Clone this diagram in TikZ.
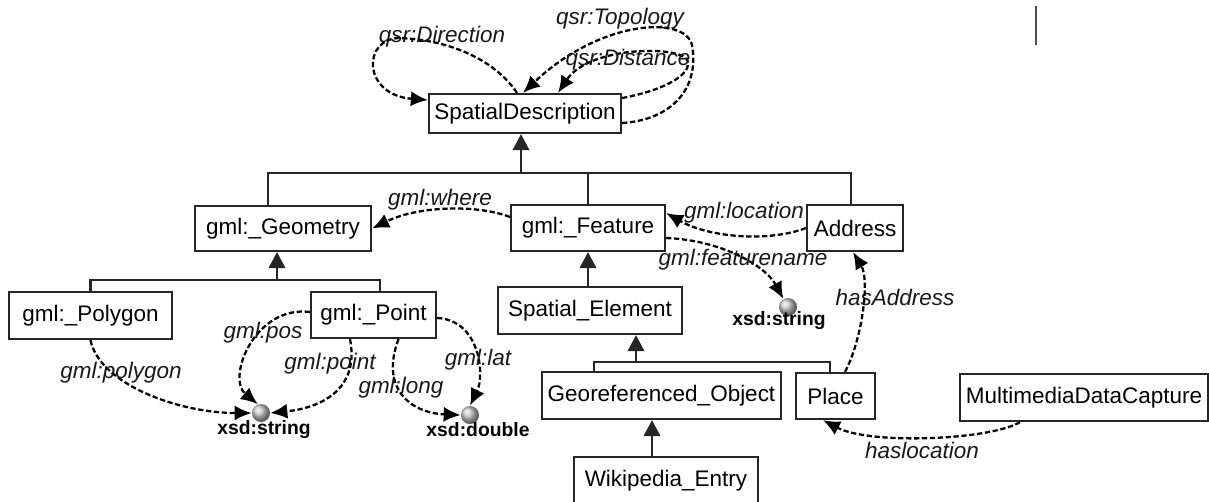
\documentclass[tikz,border=0pt]{standalone}
\usepackage{fontspec}
\setmainfont{Liberation Sans}
\usetikzlibrary{arrows.meta, positioning}
\tikzset{
	cls/.style={rectangle, draw=black!85, line width=1.3pt, fill=white, inner sep=0pt, align=center, text=black, font=\fontsize{12.8}{15}\selectfont},
	lit/.style={circle, inner sep=0pt, minimum size=0.36cm, shading=ball, ball color=gray!45},
	litlabel/.style={inner sep=1pt, font=\fontsize{11}{13}\selectfont\bfseries},
	rel/.style={inner sep=0pt, text=black!90, font=\fontsize{12.8}{15}\selectfont\itshape},
	prop/.style={-{Latex[length=3.4mm, width=3mm]}, line width=1.3pt, dash pattern=on 3pt off 1.5pt},
	tree/.style={line width=1.3pt, draw=black!85},
	isa/.style={tree, -{Triangle[length=3.2mm, width=3.3mm]}},
}
\begin{document}
\begin{tikzpicture}[x=0.02cm, y=-0.02cm]
	\useasboundingbox (0,0) rectangle (1209,501);
	% classes
	\node[cls, minimum width=3.84cm, minimum height=0.78cm] (sd) at (525,113.5) {SpatialDescription};
	\node[cls, minimum width=3.52cm, minimum height=0.90cm] (geom) at (283,228.5) {gml:\_Geometry};
	\node[cls, minimum width=3.08cm, minimum height=0.92cm] (feat) at (588,228) {gml:\_Feature};
	\node[cls, minimum width=1.92cm, minimum height=0.92cm] (addr) at (855,228) {Address};
	\node[cls, minimum width=3.26cm, minimum height=0.94cm] (poly) at (90.5,315.5) {gml:\_Polygon};
	\node[cls, minimum width=2.50cm, minimum height=0.92cm] (point) at (373.5,315) {gml:\_Point};
	\node[cls, minimum width=3.68cm, minimum height=0.94cm] (spel) at (590,310.5) {Spatial\_Element};
	\node[cls, minimum width=4.78cm, minimum height=0.94cm] (geo) at (661.5,395.5) {Georeferenced\_Object};
	\node[cls, minimum width=1.58cm, minimum height=0.92cm] (place) at (835.5,396) {Place};
	\node[cls, minimum width=4.96cm, minimum height=0.94cm] (mdc) at (1084,397.5) {MultimediaDataCapture};
	\node[cls, minimum width=3.68cm, minimum height=0.96cm] (wiki) at (666,481) {Wikipedia\_Entry};
	% literals
	\node[lit] (str1) at (261,413) {};
	\node[litlabel, below=-2pt of str1, xshift=0.06cm] (str1lbl) {xsd:string};
	\node[lit] (dbl) at (470,415) {};
	\node[litlabel, below=-2pt of dbl, xshift=0.16cm] (dbllbl) {xsd:double};
	\node[lit] (str2) at (788,307) {};
	\node[litlabel, below=-4pt of str2, xshift=-0.18cm] (str2lbl) {xsd:string};
	% subclass trees
	\coordinate (j1) at (521,173);
	\coordinate (j2) at (277,280);
	\coordinate (j3) at (636,362);
	\draw[tree] ([xshift=-0.3cm]geom.north) |- (j1) -| ([xshift=-0.08cm]addr.north);
	\draw[tree] (feat.north) -- (feat.north |- j1);
	\draw[isa] (j1) -- (sd.south -| j1);
	\draw[tree] (poly.north) |- (j2) -| ([xshift=0.13cm]point.north);
	\draw[isa] (j2) -- (geom.south -| j2);
	\draw[isa] (spel.north -| feat.south) -- (feat.south);
	\draw[tree] ([xshift=-1.35cm]geo.north) |- (j3) -| ([xshift=-0.11cm]place.north);
	\draw[isa] (j3) -- (spel.south -| j3);
	\draw[isa] ([xshift=-0.28cm]wiki.north) -- ([xshift=-0.28cm]wiki.north |- geo.south);
	% self loops on SpatialDescription
	\draw[prop] ([xshift=-0.16cm]sd.north) .. controls (495,60) and (450,40) .. (400,38)
		.. controls (362,38) and (362,95) .. ([yshift=0.27cm]sd.west);
	\draw[prop] ([yshift=-0.19cm]sd.east) .. controls (670,120) and (700,90) .. (692,45)
		.. controls (685,15) and (600,20) .. ([xshift=-0.04cm]sd.north);
	\draw[prop] ([yshift=0.31cm]sd.east) .. controls (665,90) and (690,75) .. (688,62)
		.. controls (686,45) and (590,45) .. ([xshift=0.66cm]sd.north);
	\node[rel] (ldir) at (442,37) {qsr:Direction};
	\node[rel] (ltop) at (620,19) {qsr:Topology};
	\node[rel] (ldist) at (628,60) {qsr:Distance};
	% object properties
	\draw[prop] ([yshift=0.22cm]feat.west) .. controls (480,205) and (420,205) .. (geom.east);
	\node[rel] (lwhere) at (440,200) {gml:where};
	\draw[prop] (addr.west) .. controls (770,242) and (710,238) .. ([yshift=0.3cm]feat.east);
	\node[rel] (lloc) at (744,213) {gml:location};
	\draw[prop] ([yshift=-0.2cm]feat.east) .. controls (720,240) and (765,265) .. (str2.120);
	\node[rel] (lfname) at (743,260) {gml:featurename};
	\draw[prop] ([xshift=0.19cm]place.north) .. controls (862,340) and (870,280) .. ([xshift=-0.04cm]addr.south);
	\node[rel] (laddr) at (895,297) {hasAddress};
	\draw[prop] ([xshift=-1.28cm]mdc.south) .. controls (990,440) and (870,445) .. ([xshift=-0.25cm]place.south);
	\node[rel] (lhloc) at (922,450) {haslocation};
	% geometry properties
	\draw[prop] (poly.south) .. controls (100,385) and (180,413) .. (str1.west);
	\node[rel] (lpoly) at (121,373) {gml:polygon};
	\draw[prop] ([yshift=0.06cm]point.west) .. controls (255,305) and (226,378) .. (str1.110);
	\node[rel] (lpos) at (263,333) {gml:pos};
	\draw[prop] ([xshift=-0.47cm]point.south) .. controls (360,390) and (320,408) .. (str1.east);
	\node[rel] (lpoint) at (330,364) {gml:point};
	\draw[prop] ([xshift=0.5cm]point.south) .. controls (380,388) and (410,413) .. (dbl.west);
	\node[rel] (llong) at (401,388) {gml:long};
	\draw[prop] ([yshift=-0.06cm]point.east) .. controls (480,320) and (485,375) .. (dbl.north);
	\node[rel] (llat) at (478,360) {gml:lat};
	% stray mark
	\draw[line width=1.5pt, black!70] (1036,6) -- (1036,45);
\end{tikzpicture}
\end{document}
